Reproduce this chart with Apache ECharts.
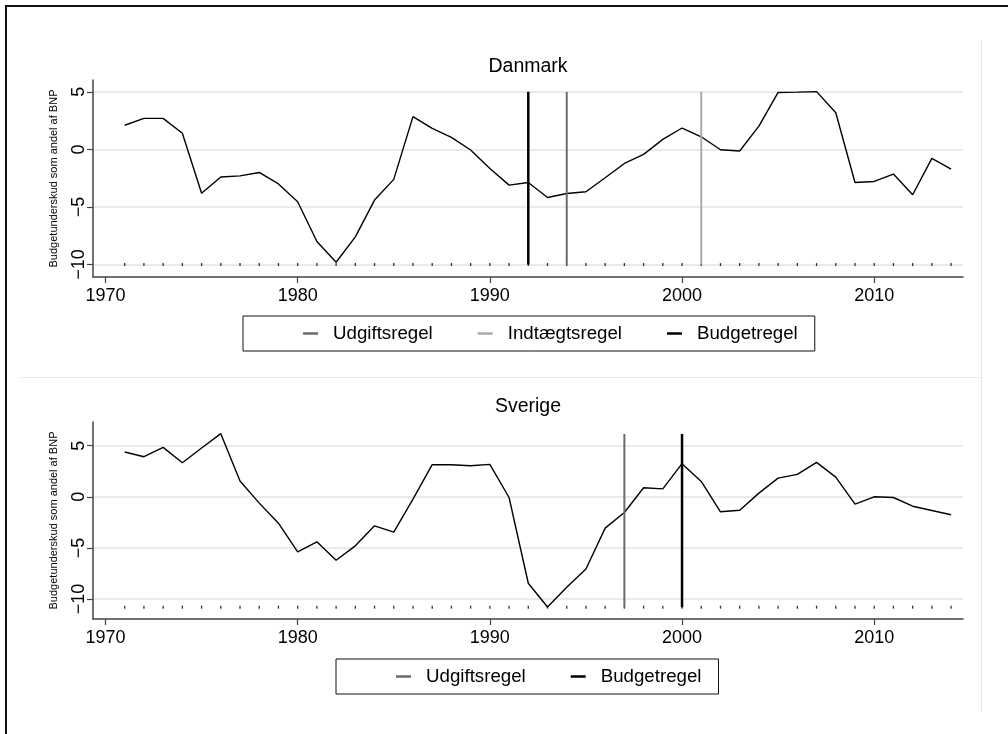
<!DOCTYPE html>
<html><head><meta charset="utf-8">
<script src="https://cdn.jsdelivr.net/npm/echarts@6/dist/echarts.min.js"></script>
<style>html,body{margin:0;padding:0;background:#fff}#c{width:1008px;height:734px}</style>
</head><body><div id="c"></div>
<script>
const years = [1971,1972,1973,1974,1975,1976,1977,1978,1979,1980,1981,1982,1983,1984,1985,1986,1987,1988,1989,1990,1991,1992,1993,1994,1995,1996,1997,1998,1999,2000,2001,2002,2003,2004,2005,2006,2007,2008,2009,2010,2011,2012,2013,2014];
const dkValues = [2.1,2.7,2.7,1.4,-3.8,-2.4,-2.3,-2.0,-3.0,-4.55,-8.0,-9.8,-7.6,-4.4,-2.6,2.85,1.83,1.05,-0.05,-1.65,-3.1,-2.87,-4.17,-3.83,-3.68,-2.46,-1.22,-0.43,0.87,1.86,1.1,-0.03,-0.14,2.03,4.95,4.98,5.02,3.19,-2.87,-2.78,-2.14,-3.94,-0.78,-1.71];
const seValues = [4.38,3.92,4.84,3.33,4.77,6.18,1.54,-0.62,-2.58,-5.39,-4.41,-6.21,-4.8,-2.84,-3.46,-0.23,3.14,3.14,3.04,3.17,-0.07,-8.46,-10.78,-8.86,-7.06,-3.07,-1.54,0.88,0.78,3.24,1.5,-1.47,-1.31,0.36,1.83,2.19,3.37,1.93,-0.72,0.0,-0.07,-0.92,-1.34,-1.76];
const xTickLabels = [1970,1980,1990,2000,2010];
const yTickLabels = [-10,-5,0,5];
const dkRuleNames = ['Udgiftsregel','Indtægtsregel','Budgetregel'];
const dkRuleYears = [1994, 2001, 1992];
const seRuleNames = ['Udgiftsregel','Budgetregel'];
const seRuleYears = [1997, 2000];
const dkRuleSpan = [-10, 5.0];
const seRuleSpan = [-10.8, 6.15];
const panelTitles = ['Danmark','Sverige'];
const yAxisTitle = 'Budgetunderskud som andel af BNP';

const ruleStyle = {
  'Udgiftsregel': {color:'#6b6b6b', width:2},
  'Indtægtsregel': {color:'#ababab', width:2},
  'Budgetregel': {color:'#000000', width:2.5}
};
const FONT = "'Liberation Sans', Arial, sans-serif";
const chart = echarts.init(document.getElementById('c'), null, {renderer:'canvas'});

const grids = [
  {left:93, right:45, top:80, height:197},
  {left:93, right:45, top:422, height:197}
];
const yRanges = [[-11.08, 6.03],[-11.96, 7.32]];
const xRange = [1969.35, 2014.62];

function xAxisFor(i){
  return {type:'value', gridIndex:i, min:xRange[0], max:xRange[1],
    axisLine:{show:true, onZero:false, lineStyle:{color:'#444', width:1.5}},
    axisTick:{show:true, length:6, customValues:xTickLabels, lineStyle:{color:'#444', width:1.2}},
    axisLabel:{customValues:xTickLabels, fontSize:18, fontFamily:FONT, color:'#000', margin:10,
      formatter:v=>String(v)},
    splitLine:{show:false}};
}
function yAxisFor(i){
  return {type:'value', gridIndex:i, min:yRanges[i][0], max:yRanges[i][1],
    axisLine:{show:true, onZero:false, lineStyle:{color:'#444', width:1.5}},
    axisTick:{show:true, length:6, customValues:yTickLabels, lineStyle:{color:'#444', width:1.2}},
    axisLabel:{customValues:yTickLabels, rotate:90, fontSize:18, fontFamily:FONT, color:'#000', margin:5,
      formatter:v=>String(v).replace('-','\u2212')},
    splitLine:{show:true, lineStyle:{color:'#e3e3e3', width:1.5}},
    name:yAxisTitle, nameLocation:'middle', nameGap:34, nameRotate:90,
    nameTextStyle:{fontSize:11, fontFamily:FONT, color:'#000'}};
}

const series = [];
function addPanel(i, values, ruleNames, ruleYears, span){
  series.push({type:'line', name:panelTitles[i], xAxisIndex:i, yAxisIndex:i, showSymbol:false, symbol:'none',
    data:years.map((y,k)=>[y, values[k]]), lineStyle:{color:'#000', width:1.4}, itemStyle:{color:'#000'}, silent:true, z:5});
  series.push({type:'scatter', name:'dots'+i, xAxisIndex:i, yAxisIndex:i, symbol:'rect', symbolSize:[1.3,3],
    data:years.map(y=>[y, span[0]]), itemStyle:{color:'#000'}, silent:true, z:4});
  ruleNames.forEach((n,k)=>{
    series.push({type:'line', name:n, xAxisIndex:i, yAxisIndex:i, showSymbol:false, symbol:'none',
      data:[[ruleYears[k], span[0]],[ruleYears[k], span[1]]],
      lineStyle:{color:ruleStyle[n].color, width:ruleStyle[n].width}, itemStyle:{color:ruleStyle[n].color}, silent:true, z:6});
  });
}
addPanel(0, dkValues, dkRuleNames, dkRuleYears, dkRuleSpan);
addPanel(1, seValues, seRuleNames, seRuleYears, seRuleSpan);

function legendFor(names, left, top){
  return {data:names.map(n=>({name:n, icon:'rect', itemStyle:{color:ruleStyle[n].color}})),
    left:left, top:top, orient:'horizontal', itemWidth:15, itemHeight:2.5, itemGap:45,
    padding:[8,17,8,60], borderColor:'#111', borderWidth:1, selectedMode:false,
    textStyle:{fontSize:18.7, fontFamily:FONT, color:'#000', padding:[0,0,0,10]}};
}

chart.setOption({
  animation:false,
  backgroundColor:'#fff',
  grid:grids,
  xAxis:[xAxisFor(0), xAxisFor(1)],
  yAxis:[yAxisFor(0), yAxisFor(1)],
  legend:[legendFor(dkRuleNames, 243, 316), legendFor(seRuleNames, 336, 659)],
  series:series,
  graphic:[
    {type:'rect', shape:{x:6, y:6, width:1010, height:740}, style:{fill:null, stroke:'#111', lineWidth:2}, silent:true},
    {type:'line', shape:{x1:981.5, y1:40, x2:981.5, y2:712}, style:{stroke:'#e6e6e6', lineWidth:1.2}, silent:true},
    {type:'line', shape:{x1:20, y1:377.5, x2:981.5, y2:377.5}, style:{stroke:'#ececec', lineWidth:1.2}, silent:true},
    {type:'text', x:528, y:67, style:{text:panelTitles[0], fontSize:19.5, fontFamily:FONT, fill:'#000', textAlign:'center', textVerticalAlign:'middle'}, silent:true},
    {type:'text', x:528, y:407, style:{text:panelTitles[1], fontSize:19.5, fontFamily:FONT, fill:'#000', textAlign:'center', textVerticalAlign:'middle'}, silent:true}
  ]
});
</script></body></html>
